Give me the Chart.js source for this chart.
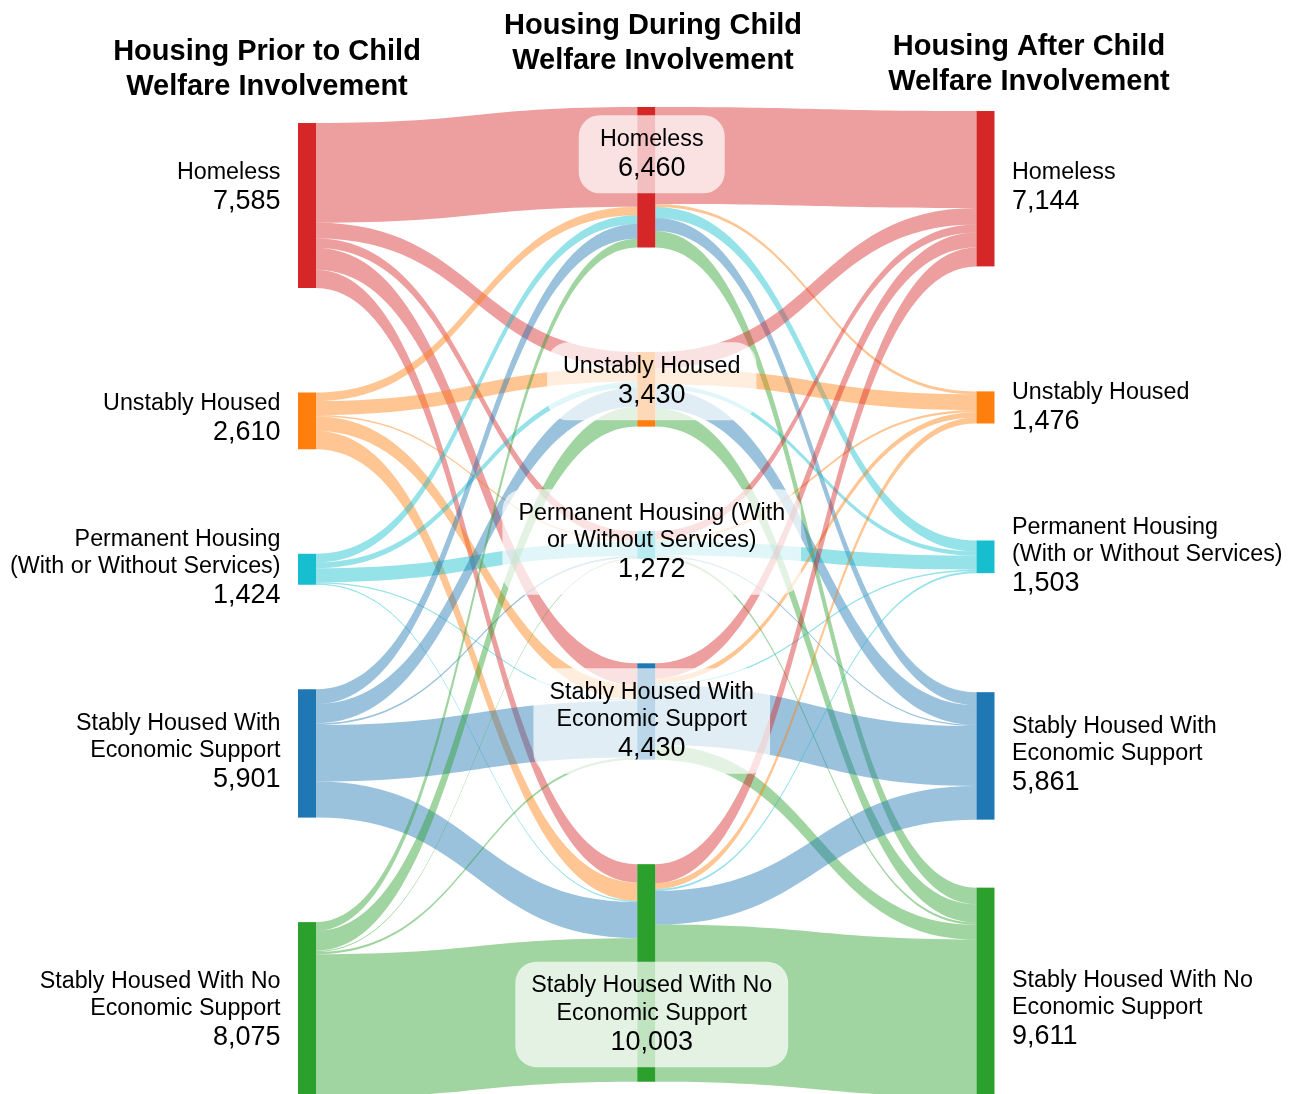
<!DOCTYPE html>
<html>
<head>
<meta charset="utf-8">
<script src="https://cdn.jsdelivr.net/npm/chart.js@4.4.0/dist/chart.umd.min.js"></script>
<style>
  html, body { margin: 0; padding: 0; background: #ffffff; }
  #wrap { width: 1291px; height: 1094px; position: relative; }
</style>
</head>
<body>
<div id="wrap"><canvas id="chart"></canvas></div>
<script>
// ---------------- DATA ----------------
const stageTitles = [
  ['Housing Prior to Child', 'Welfare Involvement'],
  ['Housing During Child', 'Welfare Involvement'],
  ['Housing After Child', 'Welfare Involvement']
];
const categories = [
  'Homeless',
  'Unstably Housed',
  'Permanent Housing (With or Without Services)',
  'Stably Housed With Economic Support',
  'Stably Housed With No Economic Support'
];
const priorValues  = [7585, 2610, 1424, 5901, 8075];
const duringValues = [6460, 3430, 1272, 4430, 10003];
const afterValues  = [7144, 1476, 1503, 5861, 9611];

// rows: prior category, columns: during category
const flowsPriorToDuring = [
  [4584, 720, 440, 1000, 841],
  [390, 650, 60, 670, 840],
  [400, 264, 640, 60, 60],
  [680, 880, 80, 2600, 1661],
  [406, 916, 52, 100, 6601]
];
// rows: during category, columns: after category
const flowsDuringToAfter = [
  [4460, 140, 500, 600, 760],
  [760, 720, 200, 900, 850],
  [370, 100, 640, 60, 102],
  [680, 246, 80, 2750, 674],
  [874, 270, 83, 1551, 7225]
];

// ---------------- STYLE / LAYOUT ----------------
const palette = ['#d62728', '#ff7f0e', '#17becf', '#1f77b4', '#2ca02c'];
const sideLabelLines = [
  ['Homeless'], ['Unstably Housed'],
  ['Permanent Housing', '(With or Without Services)'],
  ['Stably Housed With', 'Economic Support'],
  ['Stably Housed With No', 'Economic Support']
];
const middleLabelLines = [
  ['Homeless'], ['Unstably Housed'],
  ['Permanent Housing (With', 'or Without Services)'],
  ['Stably Housed With', 'Economic Support'],
  ['Stably Housed With No', 'Economic Support']
];
const layout = {
  yMin: -4920, yMax: 45379,          // value-space range of the vertical axis
  colStart: [736, 0, 184],           // value-space offset of the first node in each column
  colGaps: [[4805, 4805, 4805, 4805], [4805, 4805, 4805, 4805], [5747, 5379, 5471, 3126]],
  nodeWidth: 18,
  linkAlpha: 0.45,
  labelDy: [[-18.5, -2.5, -1.5, -2, -0.5], [-23.5, -8.5, -3.5, 9, 41], [-2, -0.5, -1.5, -1.5, 16.5]],
  font: '"Liberation Sans", Arial, Helvetica, sans-serif'
};

function hexA(hex, a) {
  const n = parseInt(hex.slice(1), 16);
  return `rgba(${(n >> 16) & 255},${(n >> 8) & 255},${n & 255},${a})`;
}

const sankeyPlugin = {
  id: 'sankeyPlugin',
  afterDraw(chart) {
    const ctx = chart.ctx;
    const xs = chart.scales.x, ys = chart.scales.y;
    const py = v => ys.getPixelForValue(v);
    const px = c => xs.getPixelForValue(c);
    const hw = layout.nodeWidth / 2;
    const columns = [priorValues, duringValues, afterValues];

    // nodes
    const nodes = columns.map((vals, c) => {
      let y = layout.colStart[c];
      return vals.map((v, i) => {
        const n = { c, i, v, y0: y, y1: y + v, outOff: 0, inOff: 0 };
        y += v + (layout.colGaps[c][i] || 0);
        return n;
      });
    });

    // links
    const flowSets = [flowsPriorToDuring, flowsDuringToAfter];
    ctx.save();
    flowSets.forEach((mat, stage) => {
      const src = nodes[stage], tgt = nodes[stage + 1];
      const segs = [];
      for (let s = 0; s < mat.length; s++) {
        for (let t = 0; t < mat[s].length; t++) {
          const v = mat[s][t];
          if (!v) continue;
          segs.push({ s, t, v });
        }
      }
      segs.forEach(g => { g.sy = src[g.s].y0 + src[g.s].outOff; src[g.s].outOff += g.v; });
      for (let t = 0; t < tgt.length; t++) {
        for (let s = 0; s < src.length; s++) {
          const g = segs.find(k => k.s === s && k.t === t);
          if (g) { g.ty = tgt[t].y0 + tgt[t].inOff; tgt[t].inOff += g.v; }
        }
      }
      const x0 = px(stage) + hw, x1 = px(stage + 1) - hw, xm = (x0 + x1) / 2;
      segs.forEach(g => {
        const col = stage === 0 ? palette[g.s] : palette[g.t];
        ctx.fillStyle = hexA(col, layout.linkAlpha);
        const a0 = py(g.sy), b0 = py(g.sy + g.v), a1 = py(g.ty), b1 = py(g.ty + g.v);
        ctx.beginPath();
        ctx.moveTo(x0, a0);
        ctx.bezierCurveTo(xm, a0, xm, a1, x1, a1);
        ctx.lineTo(x1, b1);
        ctx.bezierCurveTo(xm, b1, xm, b0, x0, b0);
        ctx.closePath();
        ctx.fill();
      });
    });

    // node bars
    nodes.forEach((col, c) => col.forEach(n => {
      ctx.fillStyle = palette[n.i];
      ctx.fillRect(px(c) - hw, py(n.y0), layout.nodeWidth, py(n.y1) - py(n.y0));
    }));

    // labels
    const labelFont = `23.3px ${layout.font}`;
    const numFont = `27px ${layout.font}`;
    const lineGap = 27.5, numGap = 29;
    const fmt = v => v.toLocaleString('en-US');
    nodes.forEach((col, c) => col.forEach(n => {
      const lines = (c === 1 ? middleLabelLines : sideLabelLines)[n.i];
      const total = (lines.length - 1) * lineGap + numGap;
      const cy = (py(n.y0) + py(n.y1)) / 2 + layout.labelDy[c][n.i];
      const firstY = cy - total / 2;
      let tx, align;
      if (c === 0) { tx = px(c) - hw - 17.5; align = 'right'; }
      else if (c === 2) { tx = px(c) + hw + 17.5; align = 'left'; }
      else { tx = px(c) + 5.5; align = 'center'; }
      if (c === 1) {
        ctx.font = labelFont;
        let w = 0;
        lines.forEach(l => { w = Math.max(w, ctx.measureText(l).width); });
        ctx.font = numFont;
        w = Math.max(w, ctx.measureText(fmt(n.v)).width);
        const bw = Math.max(w + 32, 146);
        const top = firstY - 24, bottom = firstY + total + 25;
        ctx.fillStyle = 'rgba(255,255,255,0.7)';
        ctx.beginPath();
        ctx.roundRect(tx - bw / 2, top, bw, bottom - top, 21);
        ctx.fill();
      }
      ctx.fillStyle = '#000';
      ctx.textAlign = align;
      ctx.textBaseline = 'middle';
      ctx.font = labelFont;
      lines.forEach((l, k) => ctx.fillText(l, tx, firstY + k * lineGap));
      ctx.font = numFont;
      ctx.fillText(fmt(n.v), tx, firstY + total);
    }));

    // stage titles
    ctx.font = `bold 29px ${layout.font}`;
    ctx.textAlign = 'center';
    ctx.textBaseline = 'middle';
    ctx.fillStyle = '#000';
    const titlePos = [[267, 52], [653, 26], [1029, 47]];
    stageTitles.forEach((t, c) => {
      t.forEach((line, k) => ctx.fillText(line, titlePos[c][0], titlePos[c][1] + k * 35));
    });
    ctx.restore();
  }
};

new Chart(document.getElementById('chart'), {
  type: 'scatter',
  data: { datasets: [{ data: [], pointRadius: 0 }] },
  options: {
    responsive: true,
    maintainAspectRatio: false,
    animation: false,
    layout: { padding: { left: 307, right: 305.5, top: 0, bottom: 0 } },
    plugins: { legend: { display: false }, tooltip: { enabled: false } },
    scales: {
      x: { type: 'linear', min: 0, max: 2, display: false },
      y: { type: 'linear', min: layout.yMin, max: layout.yMax, reverse: true, display: false }
    }
  },
  plugins: [sankeyPlugin]
});
</script>
</body>
</html>
